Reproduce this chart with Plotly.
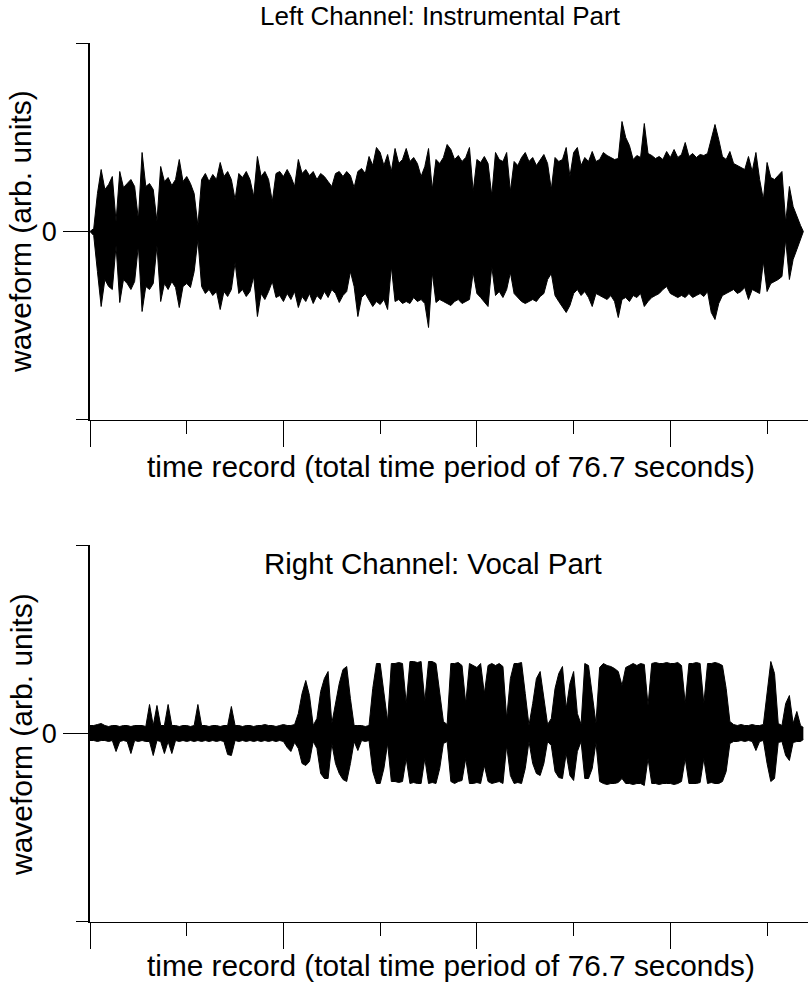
import plotly.graph_objects as go

# ---------------- data (envelope of the two audio channels, arb. units) ----------------
SAMPLE_STEP = 0.4      # seconds between envelope samples
TOTAL_TIME = 76.7      # seconds

LEFT_UPPER = [
    0, 3, 38, 62, 42, 47, 55, 10, 60, 44,
    48, 52, 45, 12, 79, 45, 48, 42, 10, 65,
    50, 54, 46, 52, 72, 50, 55, 48, 38, 6,
    52, 58, 50, 57, 52, 69, 55, 60, 52, 32,
    58, 54, 60, 52, 35, 75, 55, 60, 52, 30,
    58, 60, 55, 62, 55, 45, 72, 58, 62, 56,
    60, 52, 58, 55, 50, 45, 58, 60, 55, 60,
    56, 44, 60, 63, 58, 75, 66, 84, 79, 66,
    77, 60, 83, 68, 72, 83, 70, 74, 68, 55,
    65, 83, 42, 72, 68, 74, 87, 82, 72, 76,
    70, 74, 84, 40, 72, 69, 75, 68, 36, 79,
    72, 70, 79, 40, 70, 66, 74, 79, 70, 74,
    66, 72, 77, 68, 42, 74, 70, 72, 84, 55,
    79, 84, 66, 74, 70, 80, 70, 72, 79, 76,
    74, 72, 73, 110, 94, 86, 72, 76, 74, 108,
    78, 76, 73, 75, 72, 80, 74, 82, 74, 77,
    89, 75, 78, 74, 77, 76, 78, 94, 107, 92,
    75, 72, 80, 68, 66, 64, 62, 75, 60, 79,
    52, 32, 69, 54, 52, 56, 60, 9, 45, 25,
    15, 6, 0,
]
LEFT_LOWER = [
    0, 4, 40, 75, 48, 55, 58, 14, 71, 48,
    52, 58, 50, 14, 80, 55, 58, 52, 14, 70,
    52, 58, 50, 56, 76, 55, 52, 56, 40, 8,
    55, 62, 58, 64, 60, 78, 60, 65, 58, 31,
    62, 58, 65, 60, 45, 85, 62, 68, 60, 50,
    66, 64, 70, 62, 68, 60, 76, 65, 70, 62,
    72, 64, 68, 60, 66, 58, 62, 71, 64, 60,
    40, 55, 85, 66, 62, 68, 75, 70, 73, 68,
    78, 35, 70, 68, 72, 70, 72, 66, 70, 68,
    72, 96, 41, 71, 68, 70, 72, 74, 70, 68,
    72, 70, 68, 41, 62, 66, 70, 75, 35, 64,
    60, 66, 58, 41, 62, 66, 70, 72, 70, 68,
    70, 65, 62, 48, 42, 64, 70, 75, 81, 74,
    62, 58, 64, 60, 66, 75, 62, 64, 66, 68,
    64, 70, 86, 68, 66, 70, 64, 66, 62, 75,
    70, 66, 64, 62, 58, 55, 62, 64, 66, 64,
    66, 62, 66, 64, 62, 65, 60, 81, 88, 72,
    64, 62, 60, 58, 62, 60, 56, 68, 58, 60,
    62, 30, 60, 52, 50, 48, 45, 8, 48, 28,
    18, 8, 0,
]
RIGHT_UPPER = [
    8, 8, 9, 10, 8, 7, 8, 8, 7, 8,
    8, 7, 8, 8, 8, 7, 29, 8, 28, 8,
    8, 29, 8, 8, 7, 8, 8, 7, 8, 29,
    8, 8, 7, 8, 8, 7, 8, 8, 27, 8,
    8, 7, 8, 8, 7, 8, 8, 9, 8, 8,
    7, 8, 9, 8, 8, 9, 20, 40, 53, 38,
    8, 15, 42, 55, 62, 10, 30, 50, 64, 67,
    35, 8, 8, 8, 7, 8, 45, 70, 70, 40,
    12, 70, 70, 71, 70, 30, 72, 72, 71, 72,
    32, 72, 72, 70, 40, 12, 9, 70, 70, 71,
    68, 30, 70, 68, 66, 70, 40, 68, 70, 68,
    70, 67, 15, 55, 70, 70, 71, 40, 8, 30,
    55, 62, 35, 9, 15, 45, 60, 67, 25, 50,
    62, 20, 9, 70, 68, 40, 10, 66, 70, 68,
    67, 65, 62, 48, 66, 68, 70, 68, 70, 69,
    28, 70, 71, 70, 70, 71, 70, 70, 71, 68,
    30, 70, 70, 71, 70, 30, 70, 70, 71, 70,
    68, 45, 12, 9, 8, 9, 8, 8, 9, 8,
    8, 9, 40, 72, 60, 10, 8, 30, 38, 10,
    22, 8, 6,
]
RIGHT_LOWER = [
    7, 7, 8, 7, 7, 8, 7, 18, 8, 7,
    8, 20, 7, 8, 7, 8, 8, 22, 7, 8,
    20, 8, 20, 7, 8, 7, 8, 7, 8, 7,
    8, 7, 8, 7, 8, 7, 8, 21, 22, 7,
    8, 7, 8, 7, 8, 7, 8, 7, 8, 7,
    8, 7, 8, 14, 18, 9, 15, 30, 32, 28,
    8, 15, 40, 45, 45, 10, 30, 40, 46, 48,
    30, 8, 17, 7, 8, 7, 38, 50, 50, 35,
    10, 48, 48, 49, 48, 25, 50, 49, 50, 50,
    25, 50, 49, 50, 35, 10, 8, 48, 50, 48,
    47, 25, 50, 50, 49, 50, 32, 48, 50, 49,
    48, 50, 12, 42, 50, 49, 50, 35, 8, 30,
    40, 42, 30, 8, 12, 38, 44, 45, 20, 42,
    47, 18, 8, 45, 45, 35, 9, 48, 50, 51,
    50, 50, 49, 45, 50, 50, 51, 50, 50, 52,
    25, 50, 50, 51, 50, 50, 50, 51, 50, 48,
    25, 50, 50, 50, 49, 25, 50, 49, 50, 50,
    48, 38, 10, 8, 8, 7, 8, 7, 8, 17,
    8, 7, 30, 48, 45, 9, 8, 22, 27, 9,
    8, 8, 6,
]

TITLES = ["Left Channel: Instrumental Part", "Right Channel: Vocal Part"]
X_LABEL = "time record (total time period of 76.7 seconds)"
Y_LABEL = "waveform (arb. units)"
Y_TICK_LABELS = ["0"]
Y_TICK_VALUES = [0]
Y_LIMIT = 188.5


def time_grid(n):
    return [round(i * SAMPLE_STEP, 2) for i in range(n - 1)] + [TOTAL_TIME]


FONT = "Arial, 'Liberation Sans', sans-serif"
W, H = 811, 985
ML, MR, MT, MB = 90, 3, 43, 63
PW, PH = W - ML - MR, H - MT - MB


def px(x):
    return (x - ML) / PW


def py(y):
    return (H - MB - y) / PH


fig = go.Figure()
panels = [(LEFT_UPPER, LEFT_LOWER, "x", "y"), (RIGHT_UPPER, RIGHT_LOWER, "x2", "y2")]
for up, lo, xa, ya in panels:
    fig.add_trace(go.Scatter(x=time_grid(len(up)), y=up, mode="lines",
                             line=dict(color="black", width=1),
                             xaxis=xa, yaxis=ya, hoverinfo="skip"))
    fig.add_trace(go.Scatter(x=time_grid(len(lo)), y=[-v for v in lo], mode="lines",
                             line=dict(color="black", width=1),
                             fill="tonexty", fillcolor="black",
                             xaxis=xa, yaxis=ya, hoverinfo="skip"))

xcommon = dict(range=[0, 77.2], showline=True, linecolor="black", linewidth=1.3,
               ticks="outside", ticklen=26, tickwidth=1.3, tickcolor="black",
               tick0=0, dtick=20.8, showticklabels=False, showgrid=False,
               zeroline=False,
               minor=dict(ticks="outside", ticklen=13, tickwidth=1.3,
                          tickcolor="black", tick0=0, dtick=10.4, showgrid=False))
ycommon = dict(range=[-Y_LIMIT, Y_LIMIT], showline=True, linecolor="black",
               linewidth=1.8, ticks="outside", ticklen=25, tickwidth=1.3,
               tickcolor="black", tickmode="array", tickvals=Y_TICK_VALUES,
               ticktext=Y_TICK_LABELS, tickfont=dict(size=27, color="black", family=FONT),
               ticklabelstandoff=1, showgrid=False, zeroline=False,
               minor=dict(tickmode="array", tickvals=[-188, 188], ticks="outside",
                          ticklen=12, tickwidth=1.3, tickcolor="black", showgrid=False))

fig.update_layout(
    width=W, height=H,
    margin=dict(l=ML, r=MR, t=MT, b=MB),
    paper_bgcolor="white", plot_bgcolor="white",
    showlegend=False,
    font=dict(family=FONT, color="black"),
    xaxis=dict(domain=[0, 1], anchor="y", **xcommon),
    yaxis=dict(domain=[py(420), 1], anchor="x", **ycommon),
    xaxis2=dict(domain=[0, 1], anchor="y2", **xcommon),
    yaxis2=dict(domain=[0, py(545)], anchor="x2", **ycommon),
)

ann = []
ann.append(dict(text=TITLES[0], x=px(258), y=py(16), xanchor="left", yanchor="middle",
                font=dict(size=26)))
ann.append(dict(text=TITLES[1], x=px(262), y=py(563), xanchor="left", yanchor="middle",
                font=dict(size=29.5)))
for yc in (466, 966):
    ann.append(dict(text=X_LABEL, x=px(145), y=py(yc), xanchor="left", yanchor="middle",
                    font=dict(size=29.8)))
for yc in (232, 735):
    ann.append(dict(text=Y_LABEL, x=px(21), y=py(yc), xanchor="center", yanchor="middle",
                    textangle=-90, font=dict(size=30)))
for a in ann:
    a.update(xref="paper", yref="paper", showarrow=False)
fig.update_layout(annotations=ann)

fig.write_html("out.html", config={"displayModeBar": False},
               post_script="document.body.style.margin='0';document.body.style.overflow='hidden';")
